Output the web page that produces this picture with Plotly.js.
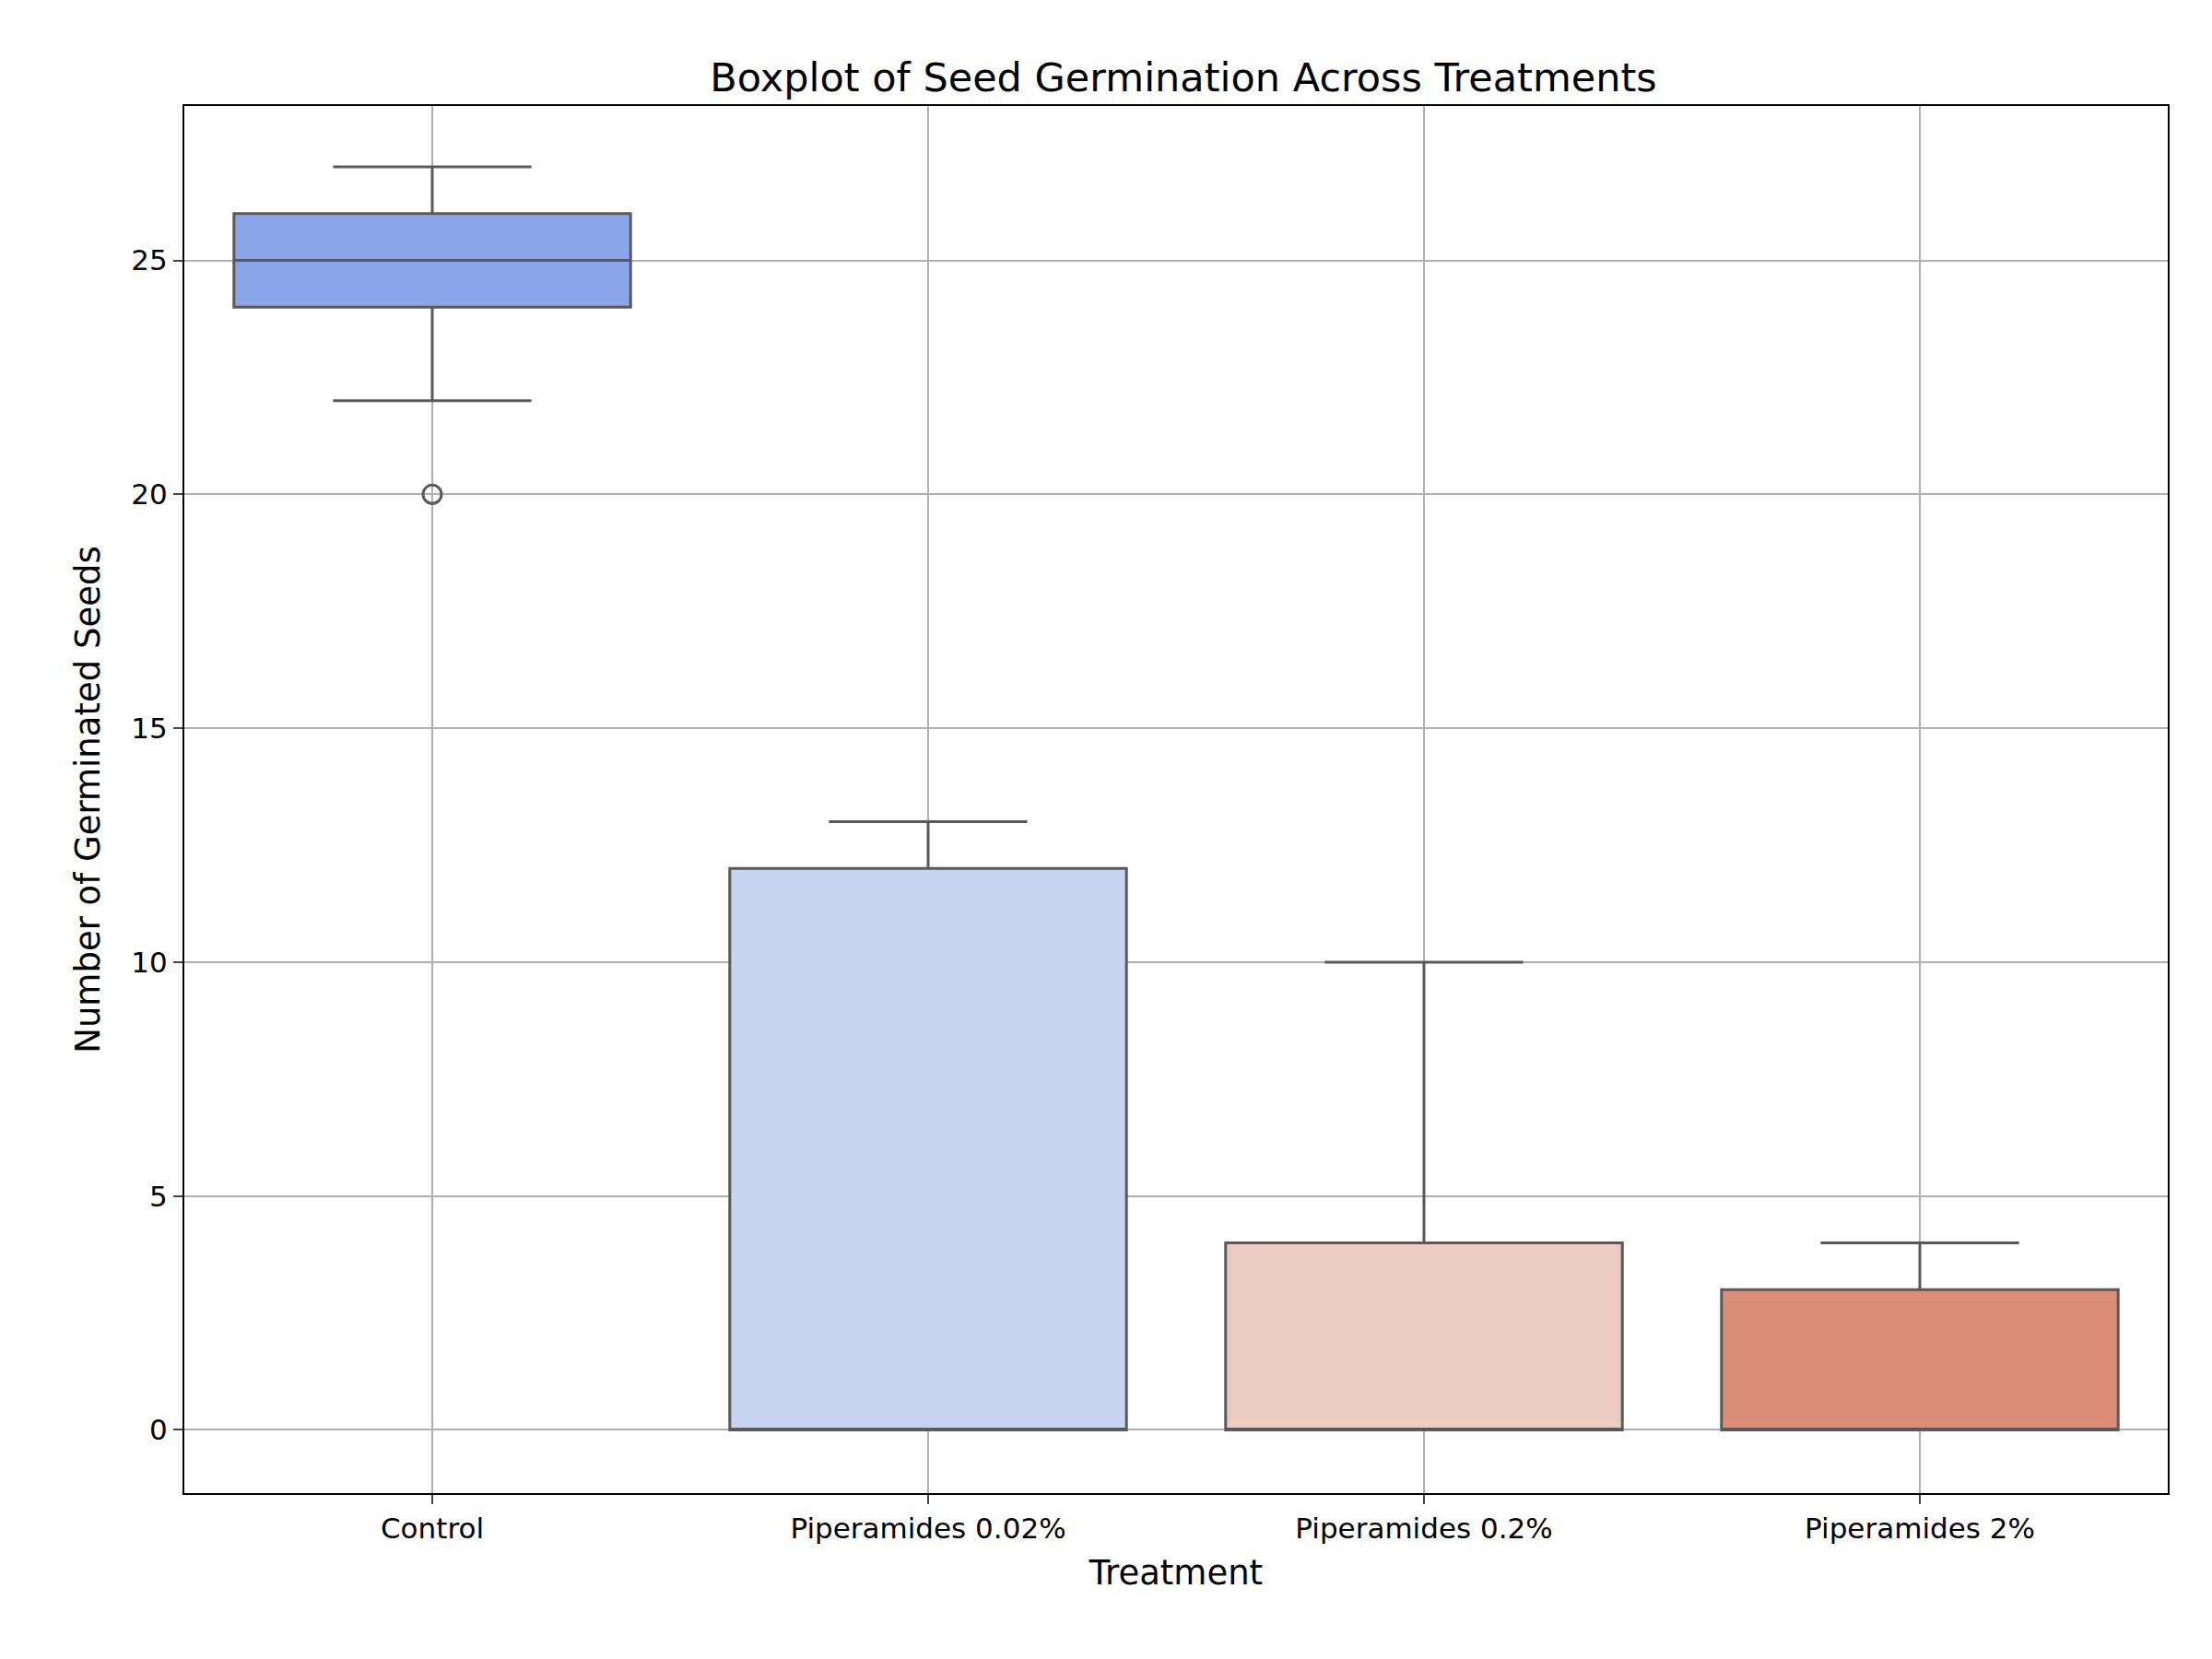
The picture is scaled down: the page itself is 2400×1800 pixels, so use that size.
<html><head><script src="https://cdn.plot.ly/plotly-3.0.1.min.js"></script></head>
<body style="margin:0"><div id="c" style="width:2400px;height:1800px"></div>
<script>
const categories=["Control","Piperamides 0.02%","Piperamides 0.2%","Piperamides 2%"];
const q1=[24,0,0,0];
const median=[25,0,0,0];
const q3=[26,12,4,3];
const lowerfence=[22,0,0,0];
const upperfence=[27,13,10,4];
const outlierCat=["Control"];
const outlierVal=[20];
const colors=["#8aa5e8","#c6d4ef","#eacdc0","#dc8d77"];
const traces=categories.map((c,i)=>({type:'box',x:[c],q1:[q1[i]],median:[median[i]],q3:[q3[i]],
 lowerfence:[lowerfence[i]],upperfence:[upperfence[i]],fillcolor:colors[i],width:0.8,whiskerwidth:0.5,
 line:{color:'#595959',width:3},showlegend:false,hoverinfo:'skip'}));
traces.push({type:'scatter',mode:'markers',x:outlierCat,y:outlierVal,showlegend:false,
 marker:{symbol:'circle-open',size:20,color:'#595959',line:{width:3,color:'#595959'}}});
Plotly.newPlot('c',traces,{width:2400,height:1800,paper_bgcolor:'white',plot_bgcolor:'white',
 margin:{l:200,r:48,t:115,b:180},boxmode:'overlay',
 font:{family:'DejaVu Sans',color:'black',size:31},
 title:{text:'Boxplot of Seed Germination Across Treatments',font:{size:43},x:0.535,y:0.962},
 xaxis:{type:'category',categoryorder:'array',categoryarray:categories,range:[-0.5,3.5],
  showgrid:true,gridcolor:'#b0b0b0',gridwidth:2,showline:true,mirror:true,linecolor:'black',linewidth:2,
  ticks:'outside',ticklen:10,tickwidth:2,title:{text:'Treatment',font:{size:37},standoff:18}},
 yaxis:{range:[-1.35,28.3],tickvals:[0,5,10,15,20,25],zeroline:false,
  showgrid:true,gridcolor:'#b0b0b0',gridwidth:2,showline:true,mirror:true,linecolor:'black',linewidth:2,
  ticks:'outside',ticklen:10,tickwidth:2,title:{text:'Number of Germinated Seeds',font:{size:37},standoff:22}}
},{displayModeBar:false});
</script></body></html>
